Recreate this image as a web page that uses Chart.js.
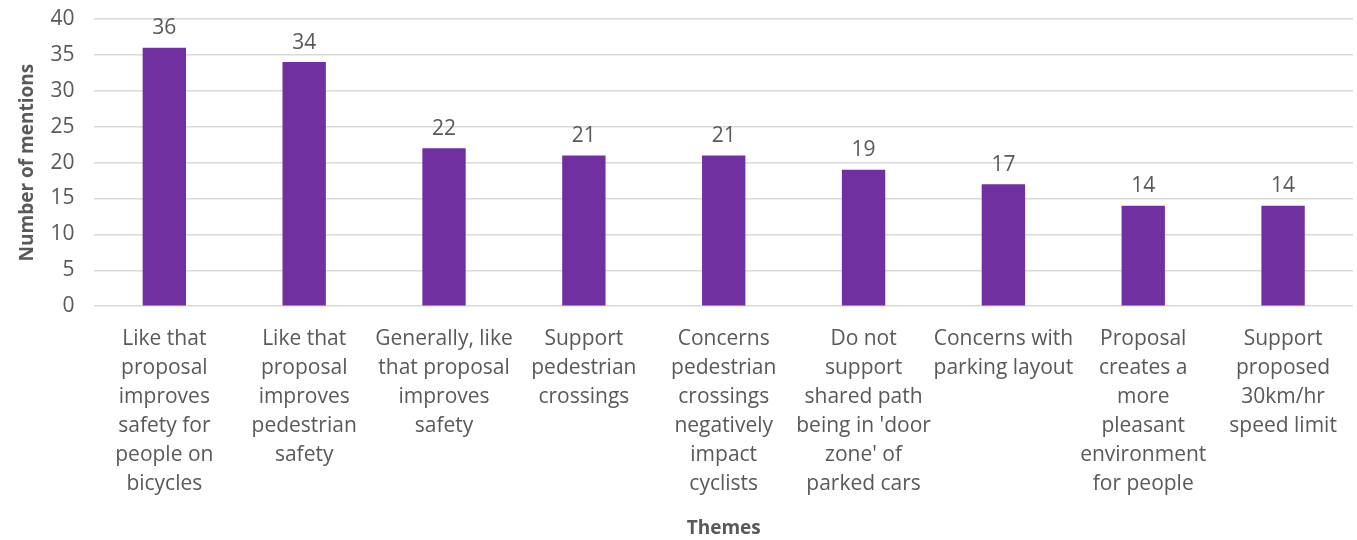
<!DOCTYPE html>
<html lang="en">
<head>
    <meta charset="UTF-8">
    <title>Themes</title>
    <script src="https://cdn.jsdelivr.net/npm/chart.js"></script>
    <style>
        html, body { margin: 0; padding: 0; background: #fff; }
        #chart-container { width: 1357px; height: 540px; }
    </style>
</head>
<body>
    <div id="chart-container">
        <canvas id="themesChart"></canvas>
    </div>

    <script>
        // data
        const themes = [
            ['Like that', 'proposal', 'improves', 'safety for', 'people on', 'bicycles'],
            ['Like that', 'proposal', 'improves', 'pedestrian', 'safety'],
            ['Generally, like', 'that proposal', 'improves', 'safety'],
            ['Support', 'pedestrian', 'crossings'],
            ['Concerns', 'pedestrian', 'crossings', 'negatively', 'impact', 'cyclists'],
            ['Do not', 'support', 'shared path', "being in 'door", "zone' of", 'parked cars'],
            ['Concerns with', 'parking layout'],
            ['Proposal', 'creates a', 'more', 'pleasant', 'environment', 'for people'],
            ['Support', 'proposed', '30km/hr', 'speed limit']
        ];
        const mentions = [36, 34, 22, 21, 21, 19, 17, 14, 14];

        const textColor = '#595959';
        const fontName = "'Open Sans', 'Noto Sans', sans-serif";

        // value labels above bars
        const valueLabels = {
            id: 'valueLabels',
            afterDatasetsDraw(chart) {
                const ctx = chart.ctx;
                const meta = chart.getDatasetMeta(0);
                ctx.save();
                ctx.fillStyle = textColor;
                ctx.font = '21px ' + fontName;
                ctx.textAlign = 'center';
                ctx.textBaseline = 'bottom';
                meta.data.forEach((bar, i) => {
                    ctx.fillText(mentions[i], bar.x, bar.y - 9);
                });
                ctx.restore();
            }
        };

        const ctx = document.getElementById('themesChart').getContext('2d');
        new Chart(ctx, {
            type: 'bar',
            data: {
                labels: themes,
                datasets: [{
                    data: mentions,
                    backgroundColor: '#7030A0',
                    categoryPercentage: 1,
                    barPercentage: 0.31
                }]
            },
            options: {
                responsive: true,
                maintainAspectRatio: false,
                animation: false,
                layout: { padding: { top: 19, right: 4, left: 22, bottom: 0 } },
                plugins: {
                    legend: { display: false },
                    tooltip: { enabled: false }
                },
                scales: {
                    x: {
                        grid: { display: false },
                        border: { display: false },
                        ticks: {
                            color: textColor,
                            font: { family: fontName, size: 21, lineHeight: 1.381 },
                            maxRotation: 0,
                            autoSkip: false,
                            padding: 10
                        },
                        title: {
                            display: true,
                            text: 'Themes',
                            color: textColor,
                            font: { family: fontName, size: 19, weight: 'bold' },
                            padding: { top: 9, bottom: 0 }
                        }
                    },
                    y: {
                        min: 0,
                        max: 40,
                        ticks: {
                            stepSize: 5,
                            color: textColor,
                            font: { family: fontName, size: 21, lineHeight: 0.6 },
                            padding: 2
                        },
                        grid: {
                            color: '#d9d9d9',
                            lineWidth: 1.5,
                            drawTicks: true,
                            tickLength: 18,
                            tickColor: 'rgba(0,0,0,0)'
                        },
                        border: { display: false },
                        title: {
                            display: true,
                            text: 'Number of mentions',
                            color: textColor,
                            font: { family: fontName, size: 19, weight: 'bold', lineHeight: 0.6 },
                            padding: { top: 0, bottom: 15 }
                        }
                    }
                }
            },
            plugins: [valueLabels]
        });
    </script>
</body>
</html>
